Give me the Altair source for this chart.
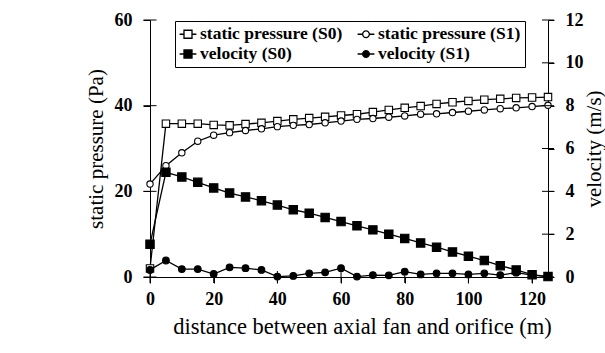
import altair as alt
import pandas as pd

# ---------------- data ----------------
distance = list(range(0, 130, 5))
sp_s0 = [2.0, 35.8, 35.8, 35.8, 35.5, 35.4, 35.7, 36.0, 36.4, 36.8, 37.1, 37.4, 37.7,
         38.0, 38.5, 39.0, 39.5, 39.9, 40.4, 40.8, 41.1, 41.4, 41.6, 41.8, 41.9, 42.0]
sp_s1 = [21.7, 26.0, 29.0, 31.7, 33.1, 33.7, 34.2, 34.6, 35.1, 35.4, 35.6, 36.0, 36.4,
         36.8, 37.0, 37.3, 37.6, 38.0, 38.1, 38.4, 38.7, 39.0, 39.3, 39.5, 39.8, 40.1]
vel_s0 = [1.53, 4.89, 4.67, 4.42, 4.16, 3.92, 3.74, 3.56, 3.36, 3.14, 2.98, 2.78, 2.59,
          2.39, 2.20, 2.00, 1.80, 1.59, 1.39, 1.17, 0.97, 0.77, 0.53, 0.33, 0.11, 0.02]
vel_s1 = [0.33, 0.77, 0.37, 0.37, 0.14, 0.45, 0.41, 0.33, 0.02, 0.05, 0.17, 0.22, 0.41,
          0.02, 0.09, 0.08, 0.25, 0.12, 0.17, 0.17, 0.12, 0.17, 0.09, 0.20, 0.09, 0.02]
series_names = ["static pressure (S0)", "static pressure (S1)", "velocity (S0)", "velocity (S1)"]
x_ticks = [0, 20, 40, 60, 80, 100, 120]
p_ticks = [0, 20, 40, 60]
v_ticks = [0, 2, 4, 6, 8, 10, 12]

df_p = pd.DataFrame({"x": distance * 2, "p": sp_s0 + sp_s1,
                     "series": [series_names[0]] * len(distance) + [series_names[1]] * len(distance)})
df_v = pd.DataFrame({"x": distance * 2, "v": vel_s0 + vel_s1,
                     "series": [series_names[2]] * len(distance) + [series_names[3]] * len(distance)})
df_xt = pd.DataFrame({"t": x_ticks})
df_pt = pd.DataFrame({"t": p_ticks})
df_vt = pd.DataFrame({"t": v_ticks})

FONT = "'Liberation Serif', 'Times New Roman', 'DejaVu Serif', serif"
SQ = "M-1.05,0H-0.5M0.5,0H1.05M-0.5,-0.5H0.5V0.5H-0.5Z"
CI = "M-1.05,0H-0.42M0.42,0H1.05M-0.42,0A0.42,0.42,0,1,1,0.42,0A0.42,0.42,0,1,1,-0.42,0Z"

X_SCALE = alt.Scale(domain=[0, 125], nice=False, zero=False)
P_SCALE = alt.Scale(domain=[0, 60], nice=False)
V_SCALE = alt.Scale(domain=[0, 12], nice=False)

X_AXIS = alt.Axis(values=x_ticks, title="distance between axial fan and orifice (m)",
                  titleFont=FONT, titleFontSize=22.5, titleFontWeight="normal", titleColor="black",
                  titleX=212, titlePadding=7,
                  labelFont=FONT, labelFontSize=18, labelFontWeight="bold", labelColor="black",
                  labelFlush=False, labelPadding=7, domainColor="black", tickColor="black",
                  tickSize=6, grid=False)
P_AXIS = alt.Axis(values=p_ticks, title="static pressure (Pa)", orient="left",
                  titleFont=FONT, titleFontSize=21, titleFontWeight="normal", titleColor="black",
                  titlePadding=8,
                  labelFont=FONT, labelFontSize=18, labelFontWeight="bold", labelColor="black",
                  labelPadding=11, domainColor="black", tickColor="black", tickSize=7, grid=False)
V_AXIS = alt.Axis(values=v_ticks, title="velocity (m/s)", orient="right", titleAngle=270,
                  titleBaseline="top", titlePadding=0,
                  titleFont=FONT, titleFontSize=21, titleFontWeight="normal", titleColor="black",
                  labelFont=FONT, labelFontSize=18, labelFontWeight="bold", labelColor="black",
                  labelPadding=11, domainColor="black", tickColor="black", tickSize=6, grid=False)

LEG = alt.Legend(title=None, orient="none", legendX=25, legendY=1, columns=2,
                 direction="horizontal",
                 strokeColor="black", fillColor="white", padding=4,
                 columnPadding=12, rowPadding=2,
                 labelFont=FONT, labelFontSize=17.5, labelFontWeight="bold", labelColor="black",
                 labelOffset=3, symbolSize=256, symbolStrokeWidth=1.3,
                 symbolStrokeColor="black", symbolOpacity=1)

X = alt.X("x:Q", scale=X_SCALE, axis=X_AXIS)


def series_layers(df, field, name, shape, fill, size, scale, axis):
    base = alt.Chart(df).transform_filter(alt.datum.series == name)
    y = alt.Y(f"{field}:Q", scale=scale, axis=axis)
    line = base.mark_line(color="black", strokeWidth=1.3).encode(x=X, y=y)
    pts = base.mark_point(shape=shape, fill=fill, stroke="black", strokeWidth=1.1,
                          size=size, opacity=1).encode(x=X, y=y)
    return [line, pts]


# pressure group (left axis)
p_layers = []
p_layers += series_layers(df_p, "p", series_names[0], "square", "white", 55, P_SCALE, P_AXIS)
p_layers += series_layers(df_p, "p", series_names[1], "circle", "white", 40, P_SCALE, P_AXIS)

legend_layer = alt.Chart(df_p).transform_filter("false").mark_point(
    strokeWidth=1.3, opacity=1).encode(
    x=X,
    y=alt.Y("p:Q", scale=P_SCALE, axis=P_AXIS),
    shape=alt.Shape("series:N", scale=alt.Scale(domain=series_names, range=[SQ, CI, SQ, CI]), legend=LEG),
    fill=alt.Fill("series:N", scale=alt.Scale(domain=series_names,
                                               range=["white", "white", "black", "black"]), legend=LEG),
    stroke=alt.Stroke("series:N", scale=alt.Scale(domain=series_names,
                                                   range=["black", "black", "black", "black"]), legend=LEG),
)

left_ticks = alt.Chart(df_pt).mark_tick(orient="horizontal", size=13, thickness=1,
                                        color="black", opacity=1).encode(
    x=alt.datum(0), y=alt.Y("t:Q", scale=P_SCALE, axis=P_AXIS))
bottom_ticks = alt.Chart(df_xt).mark_tick(orient="vertical", size=12, thickness=1,
                                          color="black", opacity=1).encode(
    x=alt.X("t:Q", scale=X_SCALE, axis=X_AXIS), y=alt.datum(0))

group_p = alt.layer(*p_layers, left_ticks, bottom_ticks, legend_layer)

# velocity group (right axis)
v_layers = []
v_layers += series_layers(df_v, "v", series_names[2], "square", "black", 70, V_SCALE, V_AXIS)
v_layers += series_layers(df_v, "v", series_names[3], "circle", "black", 45, V_SCALE, V_AXIS)
right_ticks = alt.Chart(df_vt).mark_tick(orient="horizontal", size=12, thickness=1,
                                         color="black", opacity=1).encode(
    x=alt.datum(125), y=alt.Y("t:Q", scale=V_SCALE, axis=V_AXIS))
group_v = alt.layer(*v_layers, right_ticks)

chart = alt.layer(group_p, group_v).resolve_scale(y="independent").properties(
    width=398, height=257,
    autosize=alt.AutoSizeParams(type="none"),
    padding={"left": 150, "top": 20, "right": 57, "bottom": 76},
    background="white",
).configure_view(strokeWidth=0)

chart.save("out.html", embed_options={"renderer": "svg", "actions": False})
